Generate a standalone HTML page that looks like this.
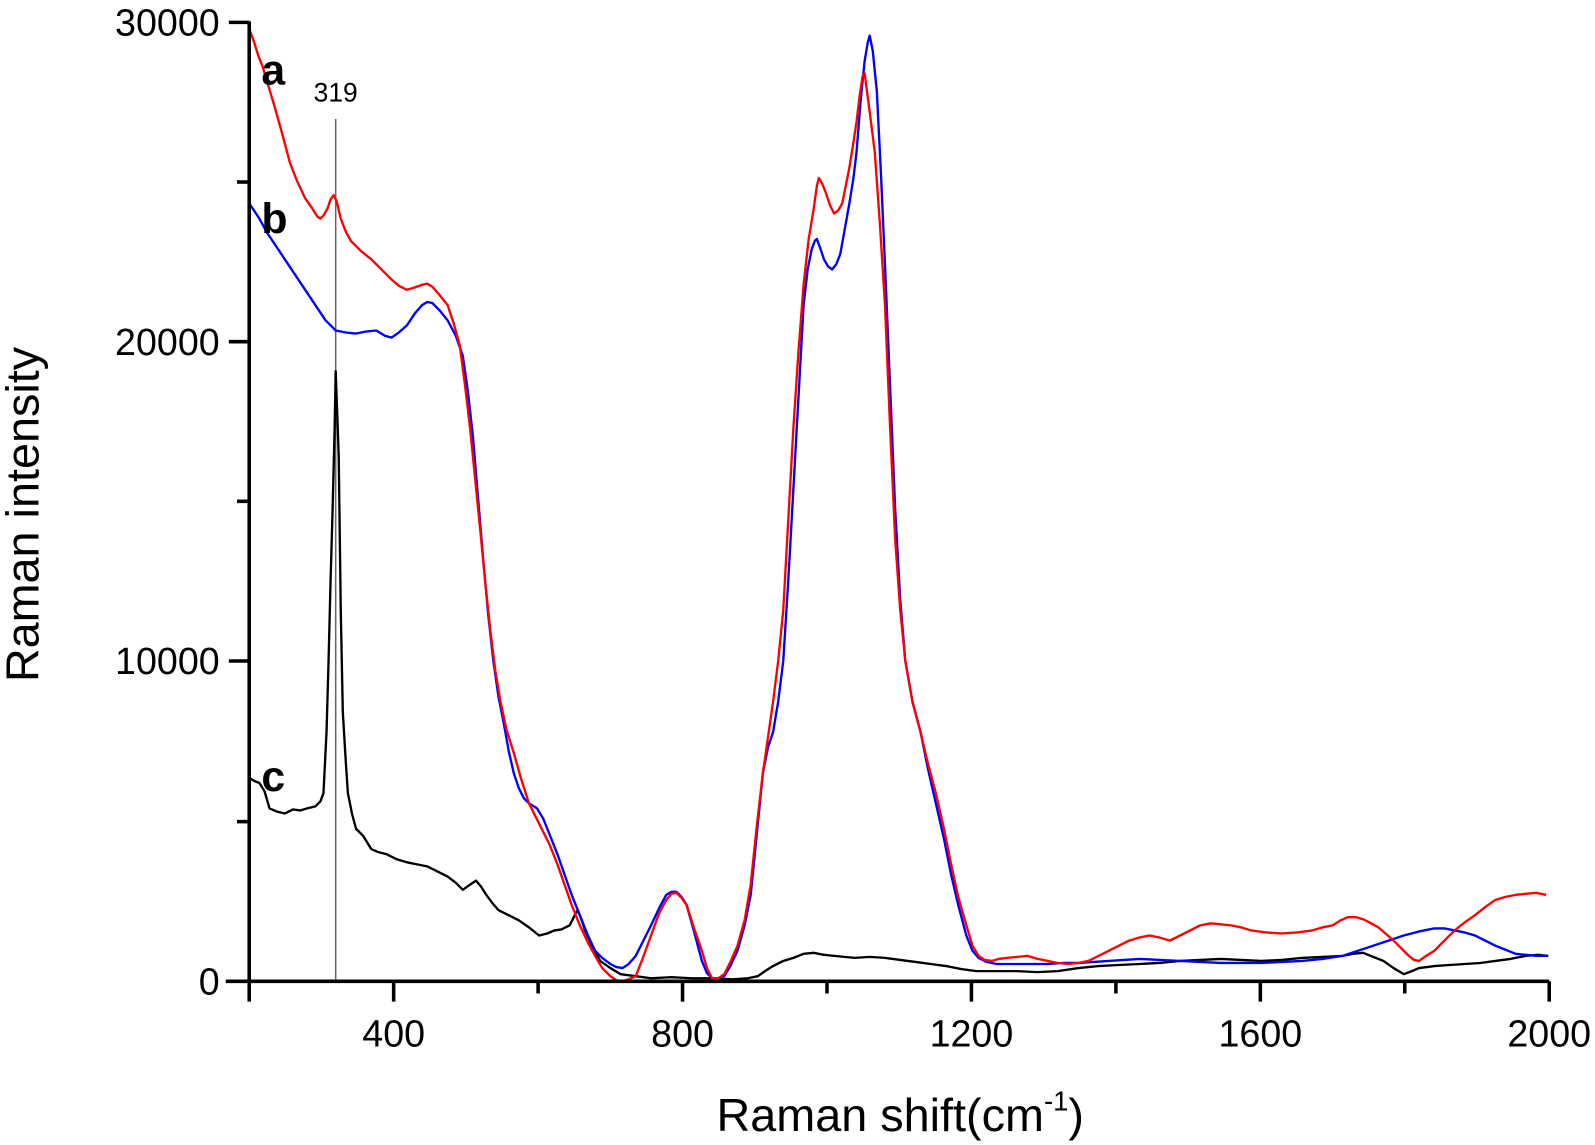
<!DOCTYPE html>
<html><head><meta charset="utf-8"><style>
html,body{margin:0;padding:0;background:#fff;}
svg{display:block;}
text{font-family:"Liberation Sans",sans-serif;fill:#000;}
</style></head><body>
<svg width="1595" height="1145" viewBox="0 0 1568 1126" preserveAspectRatio="none" xmlns="http://www.w3.org/2000/svg">
<g fill="none" stroke-linejoin="round">
<line x1="330" y1="117" x2="330" y2="965" stroke="#666" stroke-width="1.5"/>
<polyline stroke="#000" stroke-width="2.3" points="245,765 250,768 255,770 260,778 265,795 272,798 280,800 288,796 295,797 302,795 310,793 315,788 318,780 321,720 323,650 325,570 327,500 329,420 330,365 332,420 333,450 335,600 337,700 340,750 342,780 346,800 350,815 357,822 365,835 372,838 380,840 390,845 400,848 410,850 420,852 430,857 440,862 448,868 455,875 462,870 468,866 473,872 478,880 484,888 490,895 500,900 510,905 520,912 530,920 538,918 545,915 552,914 560,910 565,900 568,895 572,905 575,915 582,930 590,945 600,952 610,958 625,960 640,962 660,961 680,962 700,962 720,963 735,962 745,960 752,955 760,950 770,945 780,942 790,938 800,937 810,939 820,940 830,941 840,942 855,941 870,942 885,944 900,946 915,948 930,950 945,953 960,955 980,955 1000,955 1020,956 1040,955 1060,952 1080,950 1100,949 1120,948 1140,947 1160,945 1180,944 1200,943 1220,944 1240,945 1260,944 1280,942 1300,941 1320,940 1330,938 1340,937 1350,941 1360,945 1370,952 1380,958 1388,955 1395,952 1403,951 1410,950 1425,949 1440,948 1455,947 1470,945 1485,943 1500,940 1512,939 1522,940"/>
<polyline stroke="#0000ff" stroke-width="2.3" points="245,200 255,215 262,228 270,240 280,255 290,270 300,285 310,300 320,315 330,325 340,327 350,328 360,326 370,325 378,330 385,332 392,327 400,320 408,308 415,300 420,297 425,298 432,305 440,315 448,330 455,350 460,385 465,430 470,490 475,550 480,605 485,650 490,685 495,710 500,738 505,760 510,775 515,785 520,790 528,795 534,805 540,820 548,840 555,860 562,880 570,900 578,920 585,935 592,942 600,948 606,951 612,952 618,948 625,940 632,926 640,910 648,893 655,880 660,877 665,877 670,882 675,890 682,915 690,945 695,957 700,962 706,962 712,960 718,950 725,935 732,910 738,880 744,820 750,760 755,735 760,720 765,690 770,650 775,570 780,480 785,390 790,300 794,265 798,245 801,237 803,235 806,243 810,255 814,262 818,265 822,260 826,250 830,228 835,200 839,175 842,150 846,100 850,60 853,42 855,35 858,50 862,90 866,170 870,260 875,380 880,500 885,590 890,650 897,690 905,720 912,755 920,790 928,825 935,860 942,890 950,920 956,935 962,942 970,946 980,948 990,948 1000,948 1015,948 1030,948 1045,947 1060,947 1075,946 1090,945 1105,944 1120,943 1140,944 1160,945 1180,946 1200,947 1220,947 1240,947 1260,946 1280,945 1300,943 1320,940 1335,935 1350,930 1365,925 1380,920 1395,916 1410,913 1420,913 1430,915 1440,917 1450,920 1460,925 1470,930 1480,934 1490,938 1500,939 1510,940 1522,940"/>
<polyline stroke="#ff0000" stroke-width="2.3" points="245,28 250,42 254,55 258,65 264,85 270,105 277,130 285,160 292,178 300,195 307,205 312,213 315,215 318,212 322,205 325,196 328,192 331,198 335,215 340,228 345,237 355,247 365,255 375,265 385,275 392,281 400,285 407,283 415,280 420,279 425,282 432,290 440,300 446,318 452,340 457,378 462,420 467,470 472,520 477,572 482,620 487,660 492,690 498,718 505,740 512,765 520,790 530,810 540,830 548,850 555,870 562,890 570,910 578,927 585,940 592,952 600,960 606,964 612,965 618,963 625,960 632,942 640,920 648,898 655,885 660,879 665,878 670,883 675,890 682,912 690,935 695,952 700,962 706,962 712,958 718,946 725,930 732,905 738,870 744,812 750,760 755,725 760,690 765,650 770,600 775,510 780,420 785,345 790,280 795,235 800,205 803,183 805,175 808,180 812,190 816,202 820,210 824,207 828,200 831,185 835,165 839,140 842,120 845,95 848,75 850,72 853,95 856,118 860,150 865,220 870,300 875,420 880,530 885,600 890,650 897,690 905,720 912,750 920,780 928,815 935,850 942,882 950,910 956,930 962,940 968,944 975,945 982,943 990,942 1000,941 1010,940 1020,943 1030,945 1040,947 1050,948 1060,947 1070,945 1080,940 1090,935 1100,930 1110,925 1120,922 1130,920 1140,922 1150,925 1160,920 1170,915 1180,910 1190,908 1200,909 1210,910 1220,912 1230,915 1245,917 1260,918 1275,917 1290,915 1300,912 1310,910 1318,905 1325,902 1333,902 1340,904 1348,908 1355,912 1362,918 1370,925 1378,933 1385,940 1390,944 1395,945 1402,940 1410,935 1420,925 1430,915 1440,907 1450,900 1460,892 1470,885 1480,882 1490,880 1500,879 1510,878 1520,880"/>
</g>
<g stroke="#000" stroke-width="3.5" fill="none">
<line x1="245" y1="21" x2="245" y2="966"/>
<line x1="222" y1="965" x2="1523" y2="965"/>
<line x1="225" y1="22" x2="245" y2="22"/>
<line x1="225" y1="336" x2="245" y2="336"/>
<line x1="225" y1="650" x2="245" y2="650"/>
<line x1="233" y1="179" x2="245" y2="179"/>
<line x1="233" y1="493" x2="245" y2="493"/>
<line x1="233" y1="808" x2="245" y2="808"/>
<line x1="245" y1="965" x2="245" y2="985"/>
<line x1="387" y1="965" x2="387" y2="985"/>
<line x1="671" y1="965" x2="671" y2="985"/>
<line x1="955" y1="965" x2="955" y2="985"/>
<line x1="1239" y1="965" x2="1239" y2="985"/>
<line x1="1523" y1="965" x2="1523" y2="985"/>
<line x1="529" y1="965" x2="529" y2="977"/>
<line x1="813" y1="965" x2="813" y2="977"/>
<line x1="1097" y1="965" x2="1097" y2="977"/>
<line x1="1381" y1="965" x2="1381" y2="977"/>
</g>
<g font-size="37" text-anchor="end">
<text x="216" y="35">30000</text>
<text x="216" y="349">20000</text>
<text x="216" y="663">10000</text>
<text x="216" y="978">0</text>
</g>
<g font-size="37" text-anchor="middle">
<text x="387" y="1029">400</text>
<text x="671" y="1029">800</text>
<text x="955" y="1029">1200</text>
<text x="1239" y="1029">1600</text>
<text x="1523" y="1029">2000</text>
</g>
<text x="885" y="1112" font-size="46" text-anchor="middle">Raman shift(cm<tspan font-size="27" dy="-20">-1</tspan><tspan dy="20">)</tspan></text>
<text transform="translate(38,506) rotate(-90)" font-size="46" text-anchor="middle">Raman intensity</text>
<g font-size="42" font-weight="bold">
<text x="257" y="83">a</text>
<text x="257" y="229">b</text>
<text x="257" y="778">c</text>
</g>
<text x="330" y="100" font-size="26" text-anchor="middle">319</text>
</svg>
</body></html>
